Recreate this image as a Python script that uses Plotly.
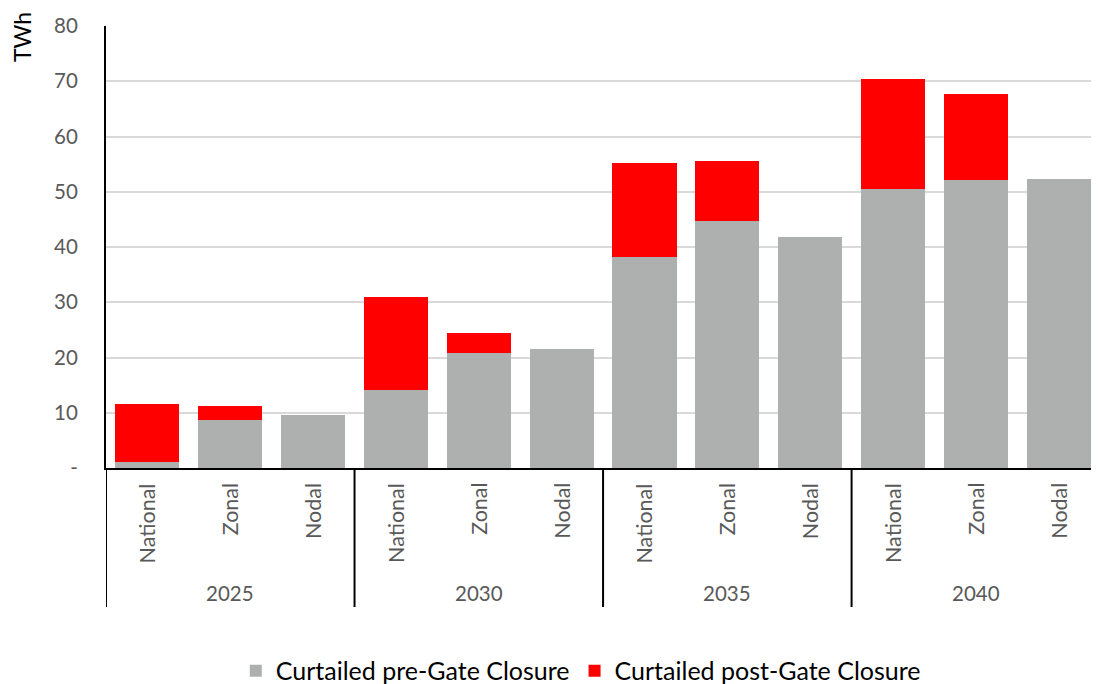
import plotly.graph_objects as go

years = ["2025", "2030", "2035", "2040"]
scenarios = ["National", "Zonal", "Nodal"]
pre_gate = [1.1, 8.7, 9.6, 14.1, 20.8, 21.5, 38.2, 44.7, 41.8, 50.5, 52.1, 52.3]
post_gate = [10.5, 2.5, 0.0, 16.9, 3.6, 0.0, 17.0, 10.9, 0.0, 19.9, 15.6, 0.0]
y_ticks = [0, 10, 20, 30, 40, 50, 60, 70, 80]
y_ticktext = ["-", "10", "20", "30", "40", "50", "60", "70", "80"]

FONT = "Lato"
GREY_TXT = "#595959"
x = list(range(len(pre_gate)))

fig = go.Figure()
fig.add_trace(go.Bar(x=x, y=pre_gate, name="Curtailed pre-Gate Closure",
                     marker=dict(color="#AEB0B0", line=dict(width=0))))
fig.add_trace(go.Bar(x=x, y=post_gate, name="Curtailed post-Gate Closure",
                     marker=dict(color="#FF0000", line=dict(width=0))))

annotations = []
labels = [s for _ in years for s in scenarios]
for i, lab in enumerate(labels):
    annotations.append(dict(x=i, y=0, xref="x", yref="paper", text=lab, showarrow=False,
                            textangle=-90, yanchor="top", xanchor="center", yshift=-13,
                            font=dict(family=FONT, size=21.5, color=GREY_TXT)))
for g, yr in enumerate(years):
    annotations.append(dict(x=g * 3 + 1, y=0, xref="x", yref="paper", text=yr, showarrow=False,
                            yanchor="middle", xanchor="center", yshift=-125,
                            font=dict(family=FONT, size=20.5, color=GREY_TXT)))
annotations.append(dict(x=0, y=1, xref="paper", yref="paper", text="TWh", showarrow=False,
                        textangle=-90, xanchor="center", yanchor="middle", xshift=-84,
                        yshift=-11,
                        font=dict(family=FONT, size=23, color="#000000")))

shapes = []
for g in range(len(years)):
    xv = g * 3 - 0.5
    shapes.append(dict(type="line", xref="x", yref="paper", x0=xv, x1=xv, y0=0, y1=-0.3145,
                       line=dict(color="#000000", width=2)))

fig.update_layout(
    barmode="stack",
    bargap=0.227,
    width=1083, height=676,
    margin=dict(l=98, r=0, t=18, b=216, autoexpand=False),
    paper_bgcolor="white", plot_bgcolor="white",
    font=dict(family=FONT, size=20, color=GREY_TXT),
    xaxis=dict(range=[-0.5, 11.39], showticklabels=False, showgrid=False, zeroline=False,
               showline=True, linecolor="#000000", linewidth=2, ticks=""),
    yaxis=dict(range=[0, 80], tickvals=y_ticks, ticktext=y_ticktext, showgrid=True,
               gridcolor="#D9D9D9", gridwidth=1.5, zeroline=False, showline=True,
               linecolor="#000000", linewidth=2, ticks="", ticklabelstandoff=22,
               tickfont=dict(family=FONT, size=20.5, color=GREY_TXT)),
    legend=dict(orientation="h", x=0.482, xanchor="center", y=-0.459, yanchor="middle",
                font=dict(family=FONT, size=25, color="#000000"), itemwidth=30,
                traceorder="normal"),
    annotations=annotations,
    shapes=shapes,
)

fig.write_html("out.html")
